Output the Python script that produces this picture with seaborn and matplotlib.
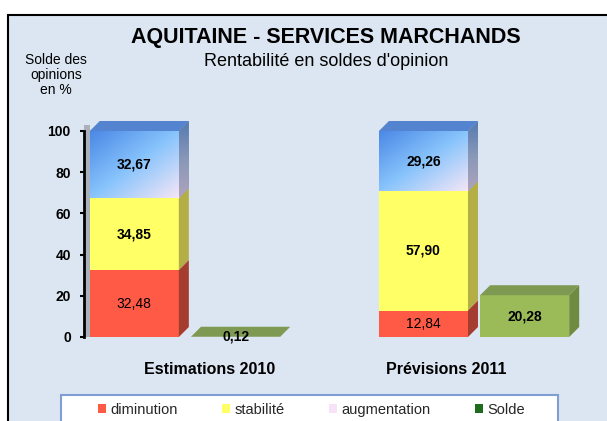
import numpy as np
import pandas as pd
import matplotlib.pyplot as plt
import seaborn as sns
from matplotlib.patches import Polygon, Rectangle, Patch
from matplotlib.colors import LinearSegmentedColormap

# Données
periodes = ["Estimations 2010", "Prévisions 2011"]
diminution = [32.48, 12.84]
stabilite = [34.85, 57.90]
augmentation = [32.67, 29.26]
solde = [0.12, 20.28]
series = ["diminution", "stabilité", "augmentation", "Solde"]
yticks = [0, 20, 40, 60, 80, 100]

sns.set_theme(style="white")
plt.rcParams["font.family"] = ["Liberation Sans", "DejaVu Sans"]

W, H = 607, 421
fig = plt.figure(figsize=(W / 100, H / 100), dpi=100)
fig.patch.set_facecolor("white")

# cadre bleu clair
fig.patches.append(Rectangle((8 / W, -0.05), 1.0, 1.05 - 15 / H, transform=fig.transFigure,
                             facecolor="#dce6f2", edgecolor="black", lw=1.5, zorder=-5))

ymax = 106
px_y = 206 / 100
ax = fig.add_axes([84 / W, 84 / H, 506 / W, ymax * px_y / H])
ax.set_facecolor("none")
ax.set_zorder(2)

x_min, x_max = -0.349, 1.401
px_x = 506 / (x_max - x_min)
dx, dy = 10 / px_x, 10 / px_y

hue_order = ["pile", "Solde"]


def barres(hauteurs, groupe, couleur):
    df = pd.DataFrame({"periode": periodes, "valeur": hauteurs, "groupe": groupe})
    n = len(ax.patches)
    sns.barplot(data=df, x="periode", y="valeur", hue="groupe", hue_order=hue_order,
                order=periodes, palette={"pile": couleur, "Solde": couleur},
                width=0.7, gap=0.12, dodge=True, legend=False, errorbar=None,
                saturation=1, linewidth=0, ax=ax)
    return ax.patches[n:]


def degrade(x0, x1, y0, y1, clip, couleurs, diagonale=True):
    cmap = LinearSegmentedColormap.from_list("d", couleurs)
    u = np.linspace(0, 1, 64)
    uu, vv = np.meshgrid(u, u)
    t = (uu + vv) / 2 if diagonale else vv
    im = ax.imshow(t, extent=(x0, x1, y0, y1), origin="upper", cmap=cmap,
                   aspect="auto", zorder=1.2, interpolation="bilinear")
    im.set_clip_path(clip)


h1 = np.array(diminution)
h2 = h1 + np.array(stabilite)
h3 = h2 + np.array(augmentation)

couches = [
    ("augmentation", h2, h3, "#86c0fa", None),
    ("stabilité", h1, h2, "#ffff66", "#b4ae46"),
    ("diminution", np.zeros(2), h1, "#ff5a46", "#a53c30"),
]

# mur gauche
ax.add_patch(Rectangle((x_min, 0), 6 / px_x, 100 + dy * 0.6, facecolor="#aab1ba",
                       edgecolor="none", zorder=0.5))

for nom, bas, haut, couleur, cote in couches:
    barres(haut, "pile", couleur)
    for p, b, t in zip([q for q in ax.patches[-2:]], bas, haut):
        x0, x1 = p.get_x(), p.get_x() + p.get_width()
        side = Polygon([(x1, b), (x1 + dx, b + dy), (x1 + dx, t + dy), (x1, t)],
                       closed=True, facecolor=cote or "#7a90b5", edgecolor="none",
                       zorder=1.1)
        ax.add_patch(side)
        if nom == "augmentation":
            seg = Rectangle((x0, b), x1 - x0, t - b, transform=ax.transData)
            degrade(x0, x1, b, t, seg, ["#4a88e6", "#88c4fc", "#f5e6f6"])
            degrade(x1, x1 + dx, b, t + dy, side, ["#5579b0", "#8898b8", "#aea3bd"], False)
            ax.add_patch(Polygon([(x0, t), (x1, t), (x1 + dx, t + dy), (x0 + dx, t + dy)],
                                 closed=True, facecolor="#5484cf", edgecolor="none",
                                 zorder=1.3))
        # étiquettes
        valeur = t - b
        ax.text((x0 + x1) / 2, b + valeur / 2, f"{valeur:.2f}".replace(".", ","),
                ha="center", va="center", fontsize=10, color="black", zorder=3,
                fontweight="normal" if nom == "diminution" else "bold")

# barres du solde
for p, v in zip(barres(solde, "Solde", "#9bbb59")[-2:], solde):
    x0, x1 = p.get_x(), p.get_x() + p.get_width()
    ax.add_patch(Polygon([(x1, 0), (x1 + dx, dy), (x1 + dx, v + dy), (x1, v)], closed=True,
                         facecolor="#6f8b3f", edgecolor="none", zorder=1.1))
    ax.add_patch(Polygon([(x0, v), (x1, v), (x1 + dx, v + dy), (x0 + dx, v + dy)], closed=True,
                         facecolor="#7e9a52", edgecolor="none", zorder=1.3))
    ax.text((x0 + x1) / 2, v / 2, f"{v:.2f}".replace(".", ","), ha="center", va="center",
            fontsize=10, fontweight="bold", color="black", zorder=3)

ax.set_xlim(x_min, x_max)
ax.set_ylim(0, ymax)
ax.set_yticks(yticks)
ax.set_yticklabels([str(v) for v in yticks], fontsize=10, fontweight="bold")
ax.set_xticks([0.086, 0.903])
ax.set_xticklabels(periodes, fontsize=11.5, fontweight="bold")
ax.tick_params(axis="x", length=0, pad=18, colors="black")
ax.tick_params(axis="y", length=3, width=1.5, pad=6.5, colors="black", left=True)
ax.set_xlabel("")
ax.set_ylabel("")
for s in ["top", "right", "bottom"]:
    ax.spines[s].set_visible(False)
ax.spines["left"].set_linewidth(2)
ax.spines["left"].set_color("black")
ax.spines["left"].set_bounds(0, 100)

# titres
fig.text(326 / W, 1 - 38 / H, "AQUITAINE - SERVICES MARCHANDS", ha="center", va="center",
         fontsize=15.5, fontweight="bold", color="black")
fig.text(326 / W, 1 - 61 / H, "Rentabilité en soldes d'opinion", ha="center", va="center",
         fontsize=13, color="black")
fig.text(56 / W, 1 - 75 / H, "Solde des\nopinions\nen %", ha="center", va="center",
         fontsize=10, linespacing=1.05, color="black")

# légende
fig.patches.append(Rectangle((61 / W, -4 / H), 497 / W, 30 / H, transform=fig.transFigure,
                             facecolor="white", edgecolor="#7f9fd2", lw=1.5, zorder=1))
couleurs_leg = ["#ff5a46", "#ffff66", "#f8e2f8", "#1e6b1e"]
handles = [Patch(facecolor=c, edgecolor="none", label=s) for c, s in zip(couleurs_leg, series)]
fig.legend(handles=handles, ncol=4, loc="center left", mode="expand", frameon=False,
           bbox_to_anchor=(98 / W, 1 - 410 / H, 427 / W, 0), fontsize=10.5,
           handlelength=0.55, handleheight=0.55, handletextpad=0.3, borderpad=0,
           borderaxespad=0)

fig.savefig("out.png", dpi=100)
